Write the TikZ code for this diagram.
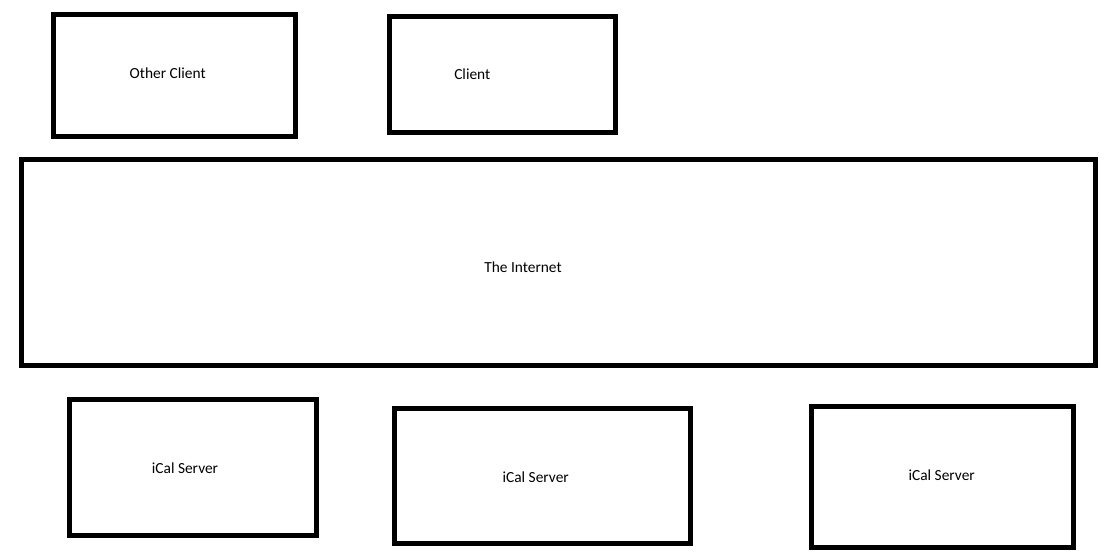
\documentclass[tikz,border=0pt]{standalone}
\usepackage{fontspec}
\setmainfont{Carlito}
\tikzset{
  box/.style={draw=black, line width=5pt, rectangle, inner sep=0pt, outer sep=0pt, fill=none},
  lbl/.style={inner sep=0pt, font=\fontsize{15.4}{18}\selectfont, text=black}
}
\begin{document}
\begin{tikzpicture}[x=1pt,y=-1pt]
\useasboundingbox[fill=white] (0,0) rectangle (1109,559);
\node[box, minimum width=242pt, minimum height=122.5pt] (oc) at (174.5,75.75) {};
\node[box, minimum width=225.6pt, minimum height=115.6pt] (cl) at (502.5,74.5) {};
\node[box, minimum width=1074.1pt, minimum height=206.1pt] (net) at (558.75,262.55) {};
\node[box, minimum width=247.2pt, minimum height=135.4pt] (s1) at (193.1,467.5) {};
\node[box, minimum width=295.7pt, minimum height=134.8pt] (s2) at (542.35,475.9) {};
\node[box, minimum width=261.8pt, minimum height=140.8pt] (s3) at (942.6,477.1) {};
\node[lbl] (toc) at (167.7,73.3) {Other Client};
\node[lbl] (tcl) at (472.3,74) {Client};
\node[lbl] (tnet) at (523,267.5) {The Internet};
\node[lbl] (ts1) at (185,468.3) {iCal Server};
\node[lbl] (ts2) at (535.7,477.3) {iCal Server};
\node[lbl] (ts3) at (941.7,475.7) {iCal Server};
\end{tikzpicture}
\end{document}
